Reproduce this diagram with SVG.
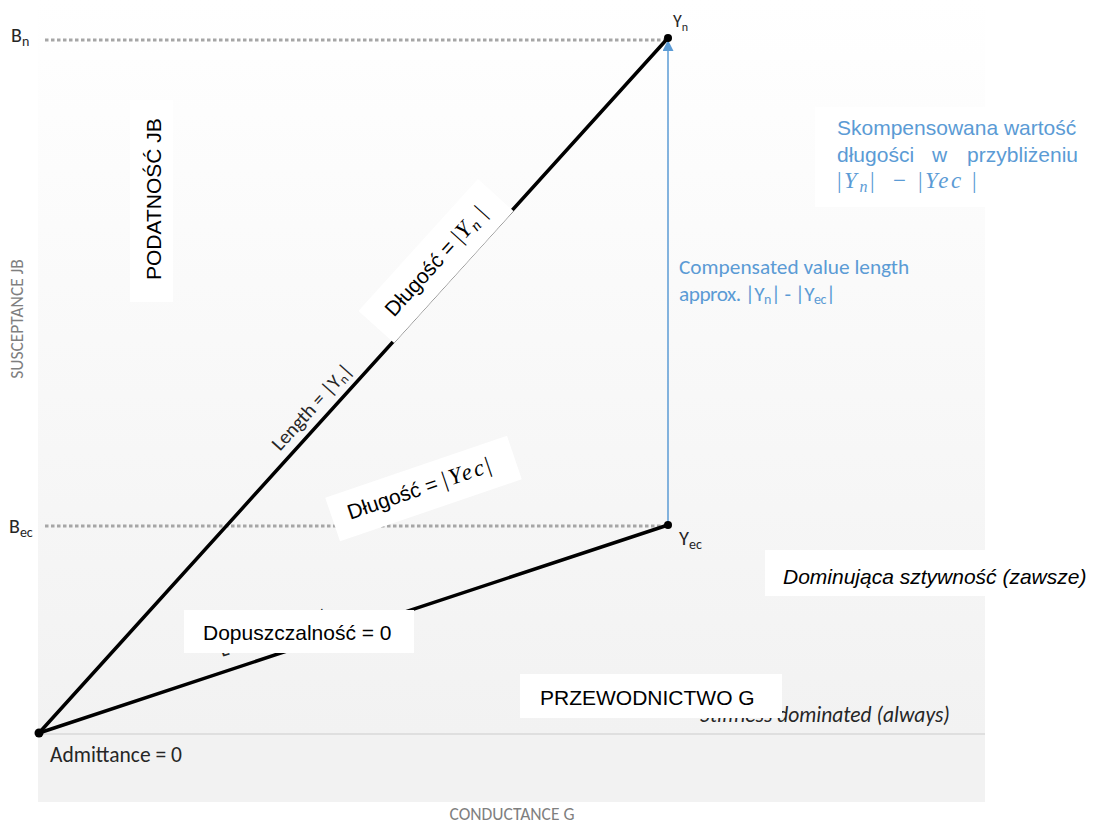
<svg xmlns="http://www.w3.org/2000/svg" width="1093" height="825" viewBox="0 0 1093 825">
  <defs>
    <linearGradient id="bg" x1="0" y1="0" x2="0" y2="734" gradientUnits="userSpaceOnUse">
      <stop offset="0" stop-color="#ffffff"/>
      <stop offset="1" stop-color="#f2f2f2"/>
    </linearGradient>
    <marker id="arrowBlue" markerWidth="12" markerHeight="12" refX="11" refY="5.5" orient="auto" markerUnits="userSpaceOnUse">
      <path d="M0,0 L11,5.5 L0,11 Z" fill="#5b9bd5"/>
    </marker>
  </defs>
  <style>
    .ar { font-family: "Liberation Sans", Arial, sans-serif; font-size: 21px; fill: #000; }
    .cal { font-family: Carlito, Lato, "Open Sans", sans-serif; fill: #262626; }
    .math { font-family: "Liberation Serif", "Times New Roman", serif; font-style: italic; }
    .up { font-style: normal; }
    .blue { fill: #5b9bd5; }
    .axis { font-family: Carlito, Lato, "Open Sans", sans-serif; fill: #7f7f7f; }
    .box { fill: #ffffff; }
    .vec { stroke: #000; stroke-width: 3.5; fill: none; stroke-linecap: round; }
    .dots { stroke: #a6a6a6; stroke-width: 3; stroke-dasharray: 3.5 2.5; fill: none; }
  </style>

  <g id="plot-area">
    <rect x="38" y="0" width="947" height="734" fill="url(#bg)"/>
    <rect x="38" y="734" width="947" height="68" fill="#f2f2f2"/>
    <line x1="38" y1="734" x2="985" y2="734" stroke="#d9d9d9" stroke-width="1.5"/>
  </g>

  <g id="axis-labels">
    <text class="axis" font-size="17.5" transform="translate(23 319) rotate(-90)" text-anchor="middle">SUSCEPTANCE JB</text>
    <text class="axis" font-size="17.5" x="512" y="820" text-anchor="middle">CONDUCTANCE G</text>
  </g>

  <g id="connectors">
    <line class="dots" x1="45" y1="40" x2="668" y2="40"/>
    <line class="dots" x1="45" y1="526" x2="668" y2="526"/>
    <line class="vec" x1="39" y1="733" x2="668" y2="38"/>
    <line class="vec" x1="39" y1="733" x2="668" y2="525"/>
    <line x1="668" y1="525" x2="668" y2="40" stroke="#5b9bd5" stroke-width="1.5" marker-end="url(#arrowBlue)"/>
  </g>

  <g id="hidden-label">
    <text class="cal" font-size="20" transform="translate(222 657) rotate(-18.3)">Length = |Y<tspan font-size="13" dy="3">ec</tspan><tspan dy="-3">|</tspan></text>
  </g>

  <g id="node-origin">
    <circle cx="39" cy="733" r="4.5" fill="#000"/>
    <text class="cal" font-size="21.5" x="50" y="762">Admittance = 0</text>
  </g>

  <g id="node-Yn">
    <circle cx="668" cy="38" r="4" fill="#000"/>
    <text class="cal" font-size="18" x="673" y="27">Y<tspan font-size="12" dy="4">n</tspan></text>
  </g>

  <g id="node-Yec">
    <circle cx="668" cy="525" r="4" fill="#000"/>
    <text class="cal" font-size="20.5" x="679" y="545">Y<tspan font-size="14" dy="4">ec</tspan></text>
  </g>

  <g id="label-Bn">
    <text class="cal" font-size="20" x="11" y="42">B<tspan font-size="14" dy="4">n</tspan></text>
  </g>

  <g id="label-Bec">
    <text class="cal" font-size="20" x="9" y="533">B<tspan font-size="14" dy="4">ec</tspan></text>
  </g>

  <g id="label-length-yn">
    <text class="cal" font-size="20" transform="translate(316.7 411.3) rotate(-47.86)" text-anchor="middle">Length = |Y<tspan font-size="13" dy="3">n</tspan><tspan dy="-3">|</tspan></text>
  </g>

  <g id="label-compensated">
    <text class="cal blue" font-size="21.3" x="679" y="274">Compensated value length</text>
    <text class="cal blue" font-size="21.3" x="679" y="301" letter-spacing="-0.5">approx. |Y<tspan font-size="14" dy="3">n</tspan><tspan dy="-3">| - |Y</tspan><tspan font-size="14" dy="3">ec</tspan><tspan dy="-3">|</tspan></text>
  </g>

  <g id="label-stiffness">
    <text class="cal" font-size="21.5" font-style="italic" x="700" y="722">Stiffness dominated (always)</text>
  </g>

  <g id="box-podatnosc">
    <rect class="box" x="130" y="100" width="43" height="202"/>
    <text class="ar" transform="translate(161 280) rotate(-90)">PODATNOŚĆ JB</text>
  </g>

  <g id="box-dlugosc-yn" transform="translate(436 261) rotate(-47.86)">
    <rect class="box" x="-89" y="-24" width="178" height="48"/>
    <text class="ar" x="0" y="7" text-anchor="middle">Długość = <tspan class="math" font-size="23" letter-spacing="1"><tspan class="up">|</tspan>Y<tspan font-size="16" dy="4">n</tspan><tspan class="up" dy="-4"> |</tspan></tspan></text>
  </g>

  <g id="box-dlugosc-yec" transform="translate(423.5 488.5) rotate(-18.8)">
    <rect class="box" x="-96" y="-23" width="192" height="46"/>
    <text class="ar" x="-3" y="6" text-anchor="middle">Długość = <tspan class="math" font-size="23" letter-spacing="2.5"><tspan class="up">|</tspan>Yec<tspan class="up">|</tspan></tspan></text>
  </g>

  <g id="box-skompensowana">
    <rect class="box" x="815" y="107" width="278" height="100"/>
    <text class="ar blue" x="837" y="135">Skompensowana wartość</text>
    <text class="ar blue" x="837" y="162">długości</text>
    <text class="ar blue" x="932" y="162">w</text>
    <text class="ar blue" x="1078" y="162" text-anchor="end">przybliżeniu</text>
    <text class="math blue" font-size="23" y="188" letter-spacing="2.5"><tspan class="up" x="837">|</tspan>Y<tspan font-size="16" dy="4">n</tspan><tspan class="up" dy="-4">|</tspan><tspan class="up" x="893">−</tspan><tspan class="up" x="918">|</tspan>Yec<tspan class="up"> |</tspan></text>
  </g>

  <g id="box-dominujaca">
    <rect class="box" x="765" y="550" width="328" height="46"/>
    <text class="ar" font-style="italic" x="783" y="584">Dominująca sztywność (zawsze)</text>
  </g>

  <g id="box-dopuszczalnosc">
    <rect class="box" x="184" y="610" width="230" height="43"/>
    <text class="ar" x="203" y="640">Dopuszczalność = 0</text>
  </g>

  <g id="box-przewodnictwo">
    <rect class="box" x="520" y="674" width="262" height="44"/>
    <text class="ar" x="540" y="705">PRZEWODNICTWO G</text>
  </g>
</svg>
